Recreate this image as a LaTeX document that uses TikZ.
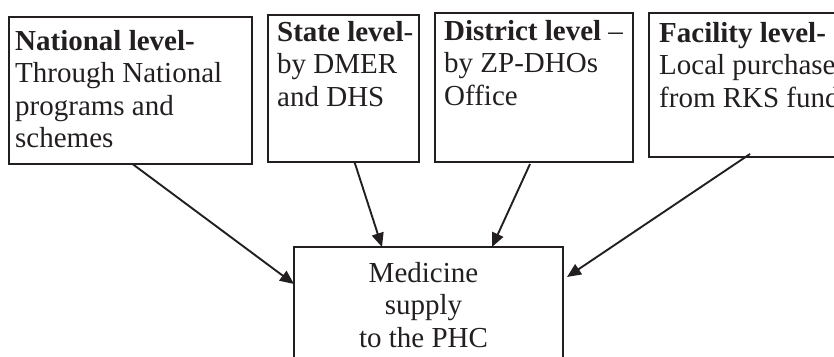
\documentclass[tikz,border=0pt]{standalone}
\usepackage{fontspec}
\setmainfont{Liberation Serif}
\usepackage{tikz}
\usetikzlibrary{calc}
\usetikzlibrary{arrows.meta}
\definecolor{ink}{RGB}{35,31,32}
\tikzset{lvlbox/.style={draw=ink, line width=2pt, outer sep=0pt, inner sep=0pt, anchor=north west}}
\tikzset{lvltxt/.style={text=ink, inner sep=0pt, align=left, anchor=north west, font=\fontsize{29}{32.5}\selectfont}}
\tikzset{feed/.style={draw=ink, line width=1.9pt, -{Triangle[length=14pt,width=12pt]}}}

\begin{document}
\begin{tikzpicture}[x=1pt,y=-1pt]
\useasboundingbox (0,0) rectangle (834,356);
\clip (0,0) rectangle (834,356);
% the four levels
\node[lvlbox, minimum width=243pt, minimum height=147pt] (nat) at (9,17) {};
\node[lvlbox, minimum width=151pt, minimum height=147pt] (st) at (268,15) {};
\node[lvlbox, minimum width=198pt, minimum height=149pt] (dis) at (435,13) {};
\node[lvlbox, minimum width=230pt, minimum height=144pt] (fac) at (649,13) {};
\node[lvltxt] (natTxt) at ($(nat.north west)+(6,13)$) {\textbf{National level-}\\Through National\\programs and\\schemes};
\node[lvltxt] (stTxt) at ($(st.north west)+(9,6)$) {\textbf{State level}-\\by DMER\\and DHS};
\node[lvltxt] (disTxt) at ($(dis.north west)+(9,7)$) {\textbf{District level} --\\by ZP-DHOs\\Office};
\node[lvltxt] (facTxt) at ($(fac.north west)+(10,9)$) {\textbf{Facility level-}\\Local purchase\\from RKS fund};
% the PHC
\node[lvlbox, minimum width=269pt, minimum height=140pt] (med) at (294,247) {};
\node[lvltxt, align=center, anchor=north] (medTxt) at ($(med.north)+(-5,15)$) {Medicine\\supply\\to the PHC};
% supply lines
\draw[feed] ($(nat.south)+(2,0)$) -- ($(med.north west)+(0,37)$);
\draw[feed] ($(st.south)+(11,0)$) -- ($(med.north west)+(88,0)$);
\draw[feed] ($(dis.south)+(-4,2)$) -- ($(med.north west)+(198,0)$);
\draw[feed] ($(fac.south west)+(101,-3)$) -- ($(med.north east)+(4,30)$);
\end{tikzpicture}
\end{document}
